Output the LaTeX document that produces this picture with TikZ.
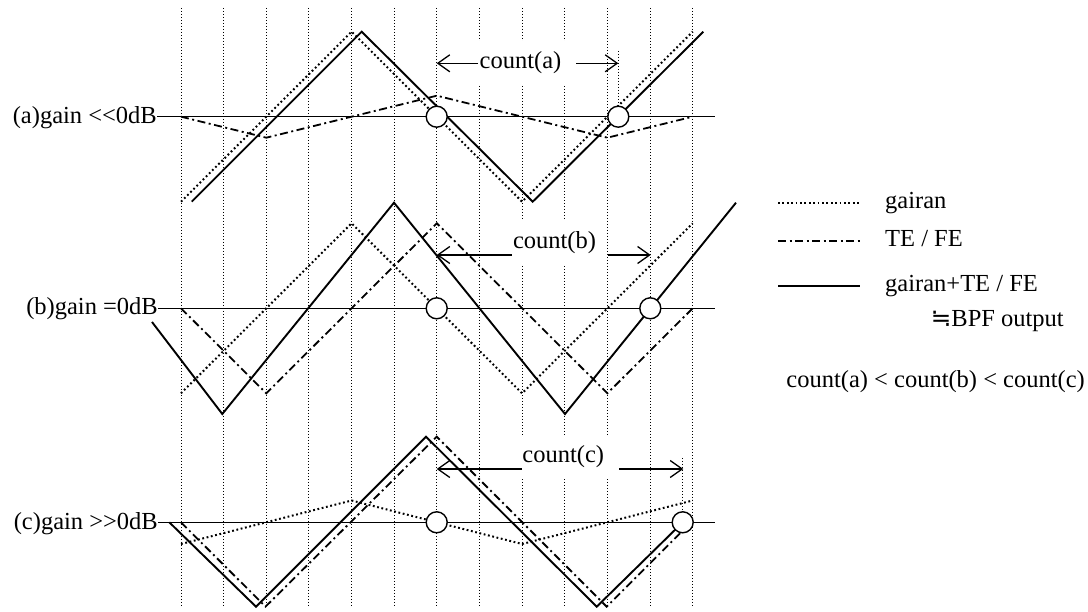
\documentclass[tikz,border=0pt]{standalone}
\usepackage{fontspec}
\setmainfont{Liberation Serif}
\newfontfamily\symf{DejaVu Sans}
\usetikzlibrary{arrows.meta}
\newcommand\lt{\mbox{<}}
\newcommand\gt{\mbox{>}}
\begin{document}
\begin{tikzpicture}[x=1pt,y=-1pt,
  font=\fontsize{24.5}{28}\selectfont,
  gridline/.style={line width=1pt, dash pattern=on 1.1pt off 1.9pt},
  gairanline/.style={line width=2pt, dash pattern=on 1.8pt off 2.6pt},
  teline/.style={line width=1.8pt, dash pattern=on 8pt off 3.5pt on 2pt off 3.5pt},
  sumline/.style={line width=1.9pt, line join=miter},
  axisline/.style={line width=1.5pt},
  marker/.style={circle, draw, fill=white, line width=1.4pt, minimum size=21pt, inner sep=0pt},
  cnt/.style={fill=white, inner xsep=8pt, inner ysep=11pt},
  meas/.style={line width=1.3pt, -{Straight Barb[length=12pt,width=17pt]}},
  lbl/.style={anchor=base east, inner sep=0pt},
  leg/.style={anchor=base west, inner sep=0pt}]
\useasboundingbox (0,0) rectangle (1088,612);
% vertical dotted grid
\foreach \i in {0,...,12} \draw[gridline] ({181+42.64*\i},8) -- ({181+42.64*\i},606);
% circle centres
\coordinate (a1) at (436.7,116.7); \coordinate (a2) at (618.3,116.7);
\coordinate (b1) at (436.7,308.3); \coordinate (b2) at (650.3,308.3);
\coordinate (c1) at (436.7,522.3); \coordinate (c2) at (682.7,522.3);
% extra marker lines
\coordinate (a2top) at (618.3,51);
\coordinate (c2top) at (682.7,458);
\draw[gridline] (a2top) -- (a2);
\draw[gridline] (c2top) -- (c2);
% count labels
\node[cnt] (ca) at (520.5,63) {count(a)};
\node[cnt] (cb) at (554.5,242.5) {count(b)};
\node[cnt] (cc) at (563.3,456.7) {count(c)};
% row labels
\node[lbl] (la) at (157,123.3) {(a)gain \lt\lt0dB};
\node[lbl] (lb) at (158,315) {(b)gain =0dB};
\node[lbl] (lc) at (158,529) {(c)gain \gt\gt0dB};
% axes
\coordinate (aend) at (715,116.7);
\coordinate (bend) at (715,308.3);
\coordinate (cend) at (715,522.3);
\draw[axisline] (la.east |- a1) -- (aend);
\draw[axisline] (lb.east |- b1) -- (bend);
\draw[axisline] (lc.east |- c1) -- (cend);
% ---- panel (a)
\draw[gairanline] (181,201.7) -- (351.6,31.7) -- (522.1,201.7) -- (692.7,31.7);
\draw[teline] (181,116.7) -- (266.3,137.7) -- (436.8,95.7) -- (607.4,137.7) -- (692.7,116.7);
\draw[sumline] (191.7,201.7) -- (361.7,31.7) -- (532.7,201.7) -- (703.3,31.7);
% ---- panel (b)
\draw[gairanline] (181,393.3) -- (351.6,223.3) -- (522.1,393.3) -- (692.7,223.3);
\draw[teline] (181,308.3) -- (266.3,393.3) -- (436.8,223.3) -- (607.4,393.3) -- (692.7,308.3);
\draw[sumline] (152,322) -- (222.3,414) -- (394,202.7) -- (565,414) -- (736,202.7);
% ---- panel (c)
\draw[gairanline] (181,544) -- (351.6,500.5) -- (522.1,544) -- (692.7,500.5);
\draw[teline] (181,522.3) -- (265.5,606.7) -- (436.7,436.7) -- (606.7,606.7) -- (684,529.3);
\draw[sumline] (169.3,522.3) -- (256,606.7) -- (426,436.7) -- (596.7,606.7) -- (c2);
% circles
\node[marker] (ma1) at (a1) {};
\node[marker] (ma2) at (a2) {};
\node[marker] (mb1) at (b1) {};
\node[marker] (mb2) at (b2) {};
\node[marker] (mc1) at (c1) {};
\node[marker] (mc2) at (c2) {};
% measurement arrows
\coordinate (aLs) at (478,63.3);   \coordinate (aLe) at (436.7,63.3);
\coordinate (aRs) at (576,63.3);   \coordinate (aRe) at (618.3,63.3);
\coordinate (bLs) at (511.7,255);  \coordinate (bLe) at (436.7,255);
\coordinate (bRs) at (608.3,255);  \coordinate (bRe) at (650.7,255);
\coordinate (cLs) at (521.7,469);  \coordinate (cLe) at (436.7,469);
\coordinate (cRs) at (619.3,469);  \coordinate (cRe) at (683.3,469);
\draw[meas] (aLs) -- (aLe);
\draw[meas] (aRs) -- (aRe);
\draw[meas] (bLs) -- (bLe);
\draw[meas] (bRs) -- (bRe);
\draw[meas] (cLs) -- (cLe);
\draw[meas] (cRs) -- (cRe);
% legend
\coordinate (g1s) at (778,203.3); \coordinate (g1e) at (860,203.3);
\coordinate (g2s) at (778,241);   \coordinate (g2e) at (860,241);
\coordinate (g3s) at (778,286);   \coordinate (g3e) at (860,286);
\draw[gairanline] (g1s) -- (g1e);
\draw[teline] (g2s) -- (g2e);
\draw[sumline] (g3s) -- (g3e);
\node[leg] (t1) at (885,208.3) {gairan};
\node[leg] (t2) at (885,246.7) {TE / FE};
\node[leg] (t3) at (885,291.7) {gairan+TE / FE};
\node[leg] (t4) at (930.7,326.7) {{\symf ≒}BPF output};
\node[anchor=base east, inner sep=0pt] (t5) at (1085,388) {count(a) \lt{} count(b) \lt{} count(c)};
\end{tikzpicture}
\end{document}
